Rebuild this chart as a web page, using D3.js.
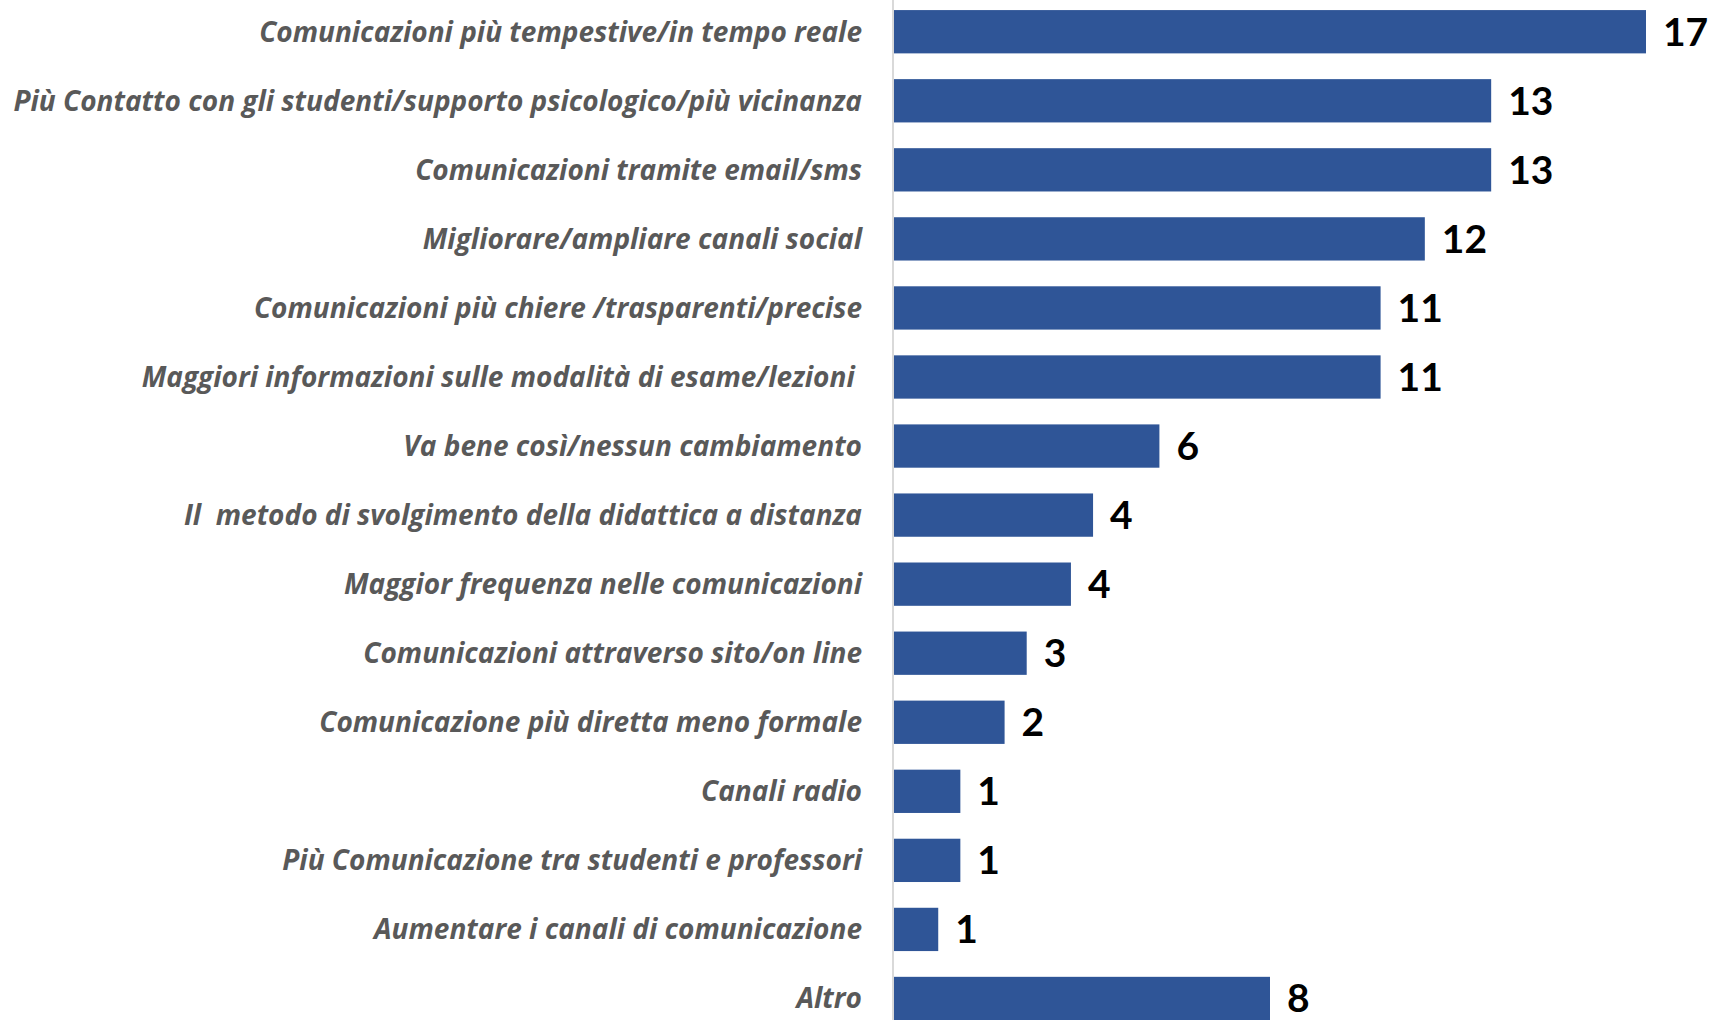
<!DOCTYPE html>
<html>
<head>
<meta charset="utf-8">
<script src="https://cdn.jsdelivr.net/npm/d3@7"></script>
<style>
  html, body { margin: 0; padding: 0; background: #ffffff; overflow: hidden; }
  svg { display: block; }
  .cat { font-family: "Open Sans", Lato, sans-serif; font-style: italic; font-weight: 700; fill: #595959; white-space: pre; }
  .val { font-family: Lato, "Open Sans", sans-serif; font-weight: 700; fill: #000000; }
</style>
</head>
<body>
<svg id="chart" width="1713" height="1020"></svg>
<script>
const categories = [
  "Comunicazioni più tempestive/in tempo reale",
  "Più Contatto con gli studenti/supporto psicologico/più vicinanza",
  "Comunicazioni tramite email/sms",
  "Migliorare/ampliare canali social",
  "Comunicazioni più chiere /trasparenti/precise",
  "Maggiori informazioni sulle modalità di esame/lezioni ",
  "Va bene così/nessun cambiamento",
  "Il  metodo di svolgimento della didattica a distanza",
  "Maggior frequenza nelle comunicazioni",
  "Comunicazioni attraverso sito/on line",
  "Comunicazione più diretta meno formale",
  "Canali radio",
  "Più Comunicazione tra studenti e professori",
  "Aumentare i canali di comunicazione",
  "Altro"
];
// bar lengths
const values = [17, 13.5, 13.5, 12, 11, 11, 6, 4.5, 4, 3, 2.5, 1.5, 1.5, 1, 8.5];
// data labels as printed on the chart
const labels = ["17", "13", "13", "12", "11", "11", "6", "4", "4", "3", "2", "1", "1", "1", "8"];

const svg = d3.select("#chart");
const axisX = 893;
const x = d3.scaleLinear().domain([0, 17]).range([axisX + 1, 1646]);
const y = d3.scaleBand().domain(categories).range([-2.8, 1033])
  .paddingInner(0.373).paddingOuter(0.1865);

// bars
svg.selectAll("rect.bar").data(values).enter().append("rect")
  .attr("class", "bar")
  .attr("x", x(0))
  .attr("y", (d, i) => y(categories[i]))
  .attr("width", d => x(d) - x(0))
  .attr("height", y.bandwidth())
  .attr("fill", "#2F5597");

// vertical axis line
svg.append("line")
  .attr("x1", axisX).attr("x2", axisX)
  .attr("y1", 0).attr("y2", 1020)
  .attr("stroke", "#d9d9d9").attr("stroke-width", 2);

// category labels
svg.selectAll("text.cat").data(categories).enter().append("text")
  .attr("class", "cat")
  .attr("x", 862)
  .attr("y", d => y(d) + y.bandwidth() / 2 + 10)
  .attr("text-anchor", "end")
  .attr("font-size", 28)
  .text(d => d);

// value labels
svg.selectAll("text.val").data(values).enter().append("text")
  .attr("class", "val")
  .attr("x", d => x(d) + 17)
  .attr("y", (d, i) => y(categories[i]) + y.bandwidth() / 2 + 14)
  .attr("font-size", 39)
  .text((d, i) => labels[i]);
</script>
</body>
</html>
